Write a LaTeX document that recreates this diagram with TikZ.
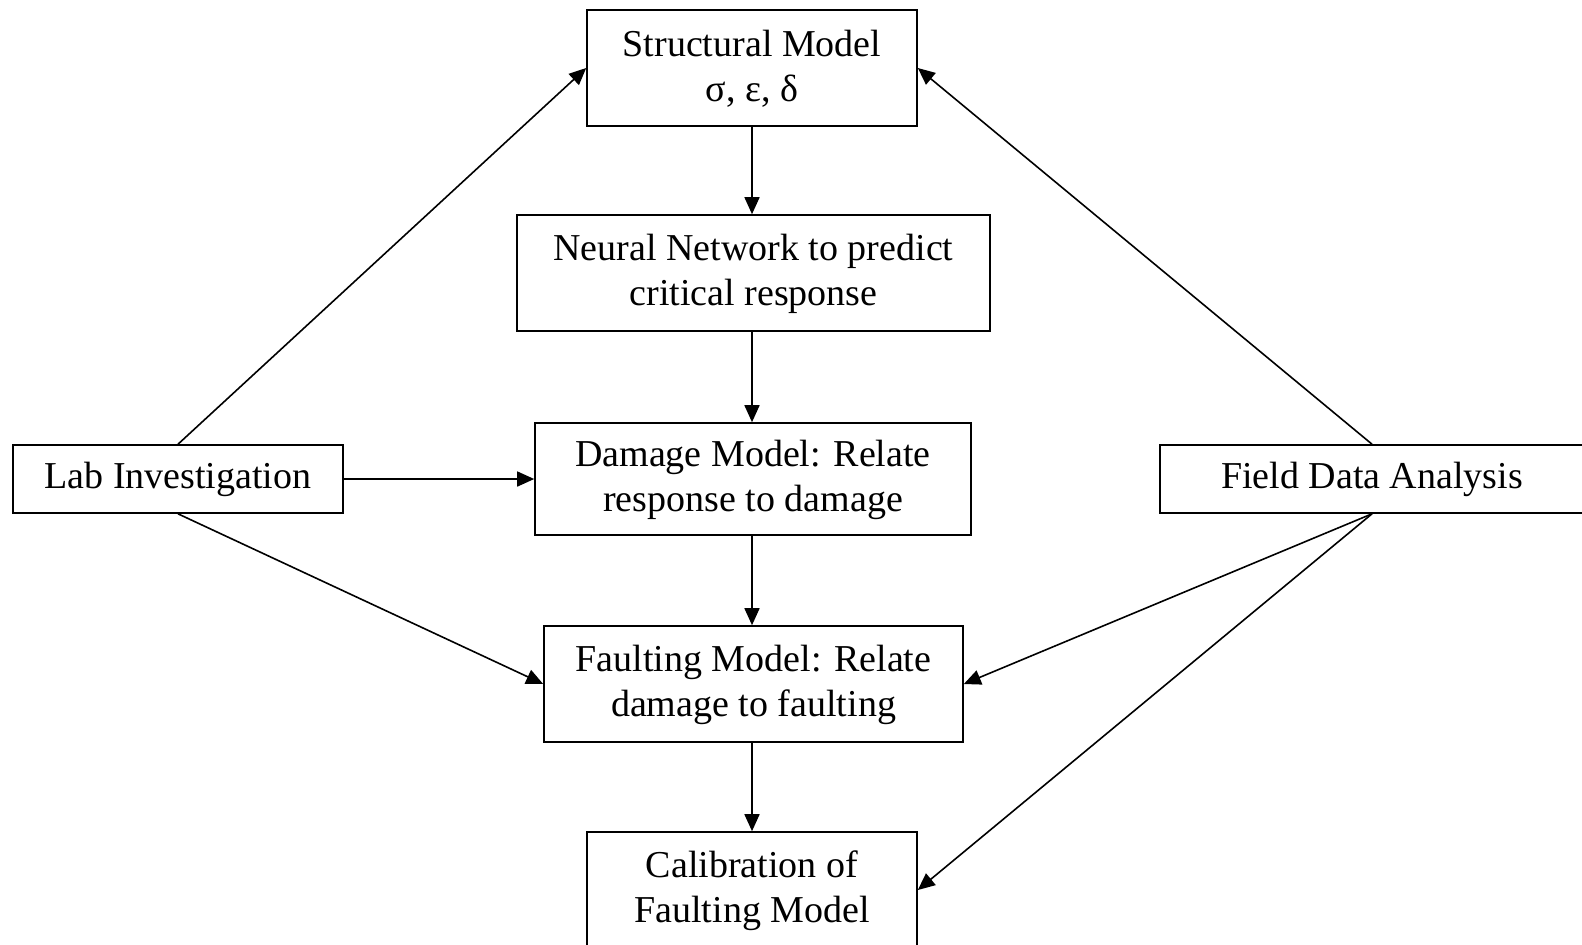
\documentclass[tikz,border=0pt]{standalone}
\usepackage{fontspec}
\setmainfont{Liberation Serif}
\usetikzlibrary{arrows.meta}
\begin{document}
\begin{tikzpicture}[x=0.5pt,y=-0.5pt,
  box/.style={draw,line width=0.8pt,inner sep=0pt,align=center,
    font=\fontsize{19pt}{22.7pt}\selectfont},
  arr/.style={line width=0.8pt,-{Triangle[length=8.5pt,width=7.5pt]}}]
\useasboundingbox (0,0) rectangle (1582,944);
\node[box,minimum width=165pt,minimum height=58pt] (sm) at (752,68) {\rule{0pt}{14pt}Structural Model\\σ, ε, δ};
\node[box,minimum width=236.5pt,minimum height=58pt] (nn) at (753.5,273) {\rule{0pt}{14pt}Neural Network to predict\\critical response};
\node[box,minimum width=218pt,minimum height=56pt] (dm) at (753,479) {\rule{0pt}{14pt}Damage Model: Relate\\response to damage};
\node[box,minimum width=209.5pt,minimum height=58pt] (fm) at (753.5,684) {\rule{0pt}{14pt}Faulting Model: Relate\\damage to faulting};
\node[box,minimum width=165pt,minimum height=58pt] (cal) at (752,890) {\rule{0pt}{14pt}Calibration of\\Faulting Model};
\node[box,minimum width=165pt,minimum height=34pt] (lab) at (178,479) {Lab Investigation};
\node[box,minimum width=212pt,minimum height=34pt] (fd) at (1372,479) {Field Data Analysis};
\draw[arr] (sm.south) -- (nn.north -| sm.south);
\draw[arr] (nn.south -| sm.south) -- (dm.north -| sm.south);
\draw[arr] (dm.south -| sm.south) -- (fm.north -| sm.south);
\draw[arr] (fm.south -| sm.south) -- (cal.north);
\draw[arr] (lab.north) -- (sm.west);
\draw[arr] (fd.north) -- (sm.east);
\draw[arr] (lab.east) -- (dm.west);
\draw[arr] (lab.south) -- (fm.west);
\draw[arr] (fd.south) -- (fm.east);
\draw[arr] (fd.south) -- (cal.east);
\end{tikzpicture}
\end{document}
